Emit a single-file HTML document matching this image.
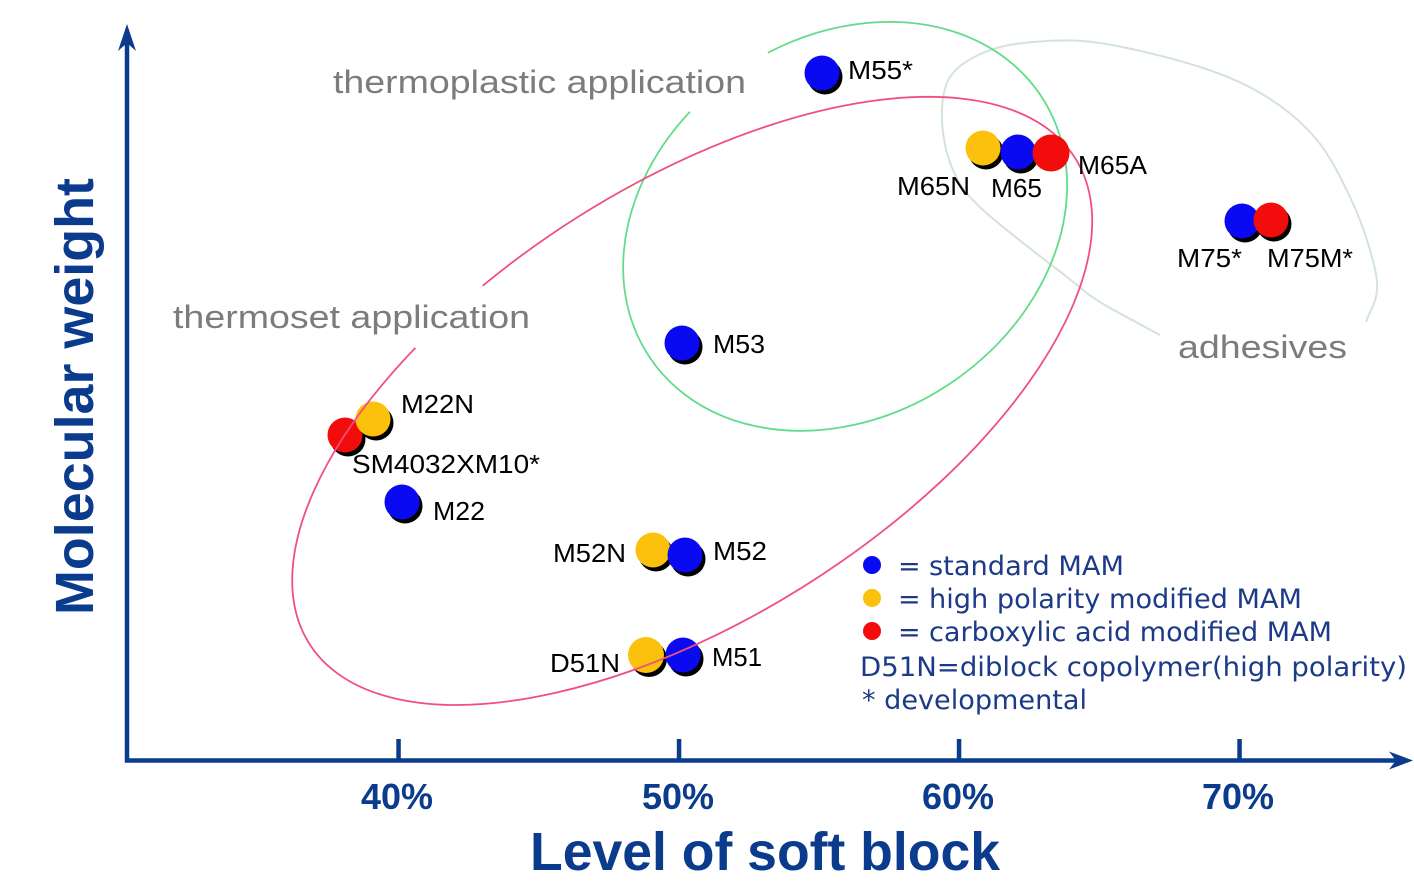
<!DOCTYPE html>
<html>
<head>
<meta charset="utf-8">
<style>
  html, body { margin:0; padding:0; background:#fff; }
  svg { display:block; }
  .lbl { font-family:"Liberation Sans", Arial, sans-serif; font-size:26px; fill:#000; }
  .gray { font-family:"Liberation Sans", Arial, sans-serif; font-size:32px; fill:#7c7c7c; }
  .leg { font-family:"DejaVu Sans", Verdana, sans-serif; font-size:27px; fill:#1c3a87; }
  .ax { font-family:"Liberation Sans", Arial, sans-serif; font-weight:bold; fill:#0b3b8c; }
</style>
</head>
<body>
<svg width="1414" height="883" viewBox="0 0 1414 883" xmlns="http://www.w3.org/2000/svg">
  <rect width="1414" height="883" fill="#fff"/>

  <!-- Axes -->
  <path d="M127 42 V760.5 H1398" fill="none" stroke="#0b3b8c" stroke-width="4.5" stroke-linejoin="miter"/>
  <polygon points="127,24 118,51 127,43 136,51" fill="#0b3b8c"/>
  <polygon points="1413,760.5 1389,751.5 1396,760.5 1389,769.5" fill="#0b3b8c"/>
  <rect x="396.3" y="739" width="4.5" height="22" fill="#0b3b8c"/>
  <rect x="676.8" y="739" width="4.5" height="22" fill="#0b3b8c"/>
  <rect x="956.8" y="739" width="4.5" height="22" fill="#0b3b8c"/>
  <rect x="1237.3" y="739" width="4.5" height="22" fill="#0b3b8c"/>

  <!-- Tick labels -->
  <text class="ax" x="361" y="809" font-size="36" textLength="72" lengthAdjust="spacingAndGlyphs">40%</text>
  <text class="ax" x="642" y="809" font-size="36" textLength="72" lengthAdjust="spacingAndGlyphs">50%</text>
  <text class="ax" x="922" y="809" font-size="36" textLength="72" lengthAdjust="spacingAndGlyphs">60%</text>
  <text class="ax" x="1202" y="809" font-size="36" textLength="72" lengthAdjust="spacingAndGlyphs">70%</text>

  <!-- Axis titles -->
  <text class="ax" x="530" y="870" font-size="54" textLength="470" lengthAdjust="spacingAndGlyphs">Level of soft block</text>
  <text class="ax" font-size="54" transform="translate(93,615) rotate(-90)" textLength="437" lengthAdjust="spacingAndGlyphs">Molecular weight</text>

  <!-- Region labels -->
  <text class="gray" x="333" y="93" textLength="413" lengthAdjust="spacingAndGlyphs">thermoplastic application</text>
  <text class="gray" x="173" y="328" textLength="357" lengthAdjust="spacingAndGlyphs">thermoset application</text>
  <text class="gray" x="1178" y="358" textLength="169" lengthAdjust="spacingAndGlyphs">adhesives</text>

  <!-- Dots (shadow + fill) -->
  <g>
    <!-- M55* -->
    <circle cx="825" cy="77" r="17.5" fill="#000"/>
    <circle cx="822" cy="73" r="17.5" fill="#0a0af2"/>
    <!-- M53 -->
    <circle cx="685" cy="347" r="17.5" fill="#000"/>
    <circle cx="682" cy="343" r="17.5" fill="#0a0af2"/>
    <!-- SM4032XM10* red + M22N yellow -->
    <circle cx="348" cy="439" r="17.5" fill="#000"/>
    <circle cx="345" cy="435" r="17.5" fill="#f20c0c"/>
    <circle cx="376" cy="423" r="17.5" fill="#000"/>
    <circle cx="373" cy="419" r="17.5" fill="#fcc10c"/>
    <!-- M22 -->
    <circle cx="405" cy="506" r="17.5" fill="#000"/>
    <circle cx="402" cy="502" r="17.5" fill="#0a0af2"/>
    <!-- M52N / M52 -->
    <circle cx="656" cy="554" r="17.5" fill="#000"/>
    <circle cx="653" cy="550" r="17.5" fill="#fcc10c"/>
    <circle cx="688" cy="559" r="17.5" fill="#000"/>
    <circle cx="685" cy="555" r="17.5" fill="#0a0af2"/>
    <!-- D51N / M51 -->
    <circle cx="649" cy="659" r="18" fill="#000"/>
    <circle cx="646" cy="655" r="18" fill="#fcc10c"/>
    <circle cx="686" cy="659" r="17.5" fill="#000"/>
    <circle cx="683" cy="655" r="17.5" fill="#0a0af2"/>
    <!-- M75* / M75M* -->
    <circle cx="1245" cy="225" r="17.5" fill="#000"/>
    <circle cx="1242" cy="221" r="17.5" fill="#0a0af2"/>
    <circle cx="1274" cy="224" r="17.5" fill="#000"/>
    <circle cx="1271" cy="220" r="17.5" fill="#f20c0c"/>
  </g>

  <!-- Ellipses -->
  <path d="M1160,335 C1140,324 1115.5,311.7 1100,302 C1084.5,292.3 1086.5,292.3 1067,277 C1047.5,261.7 1002,227.8 983,210 C964,192.2 959.8,185 953,170 C946.2,155 942.5,135.5 942,120 C941.5,104.5 942.8,88.3 950,77 C957.2,65.7 971.2,57.8 985,52 C998.8,46.2 1013.8,43.5 1033,42 C1052.2,40.5 1072.2,38.8 1100,43 C1127.8,47.2 1172.2,58 1200,67 C1227.8,76 1247.5,84.8 1267,97 C1286.5,109.2 1303.2,123.3 1317,140 C1330.8,156.7 1341.2,178.7 1350,197 C1358.8,215.3 1365.5,234.5 1370,250 C1374.5,265.5 1377.7,278 1377,290 C1376.3,302 1369.7,311.3 1366,322"
        fill="none" stroke="#d3e4d7" stroke-width="2"/>
  <path d="M767.9,52.75 A235.3,189 -33.85 1 1 689.95,111.7" fill="none" stroke="#62dc8a" stroke-width="1.8"/>
  <path d="M482.65,285.85 A453.4,216.5 -32.4 1 1 415.4,347.9" fill="none" stroke="#f0507e" stroke-width="1.8"/>

  <!-- M65 group (on top of curves) -->
  <circle cx="986" cy="152" r="17.5" fill="#000"/>
  <circle cx="983" cy="148" r="17.5" fill="#fcc10c"/>
  <circle cx="1021" cy="156" r="17.5" fill="#000"/>
  <circle cx="1018" cy="152" r="17.5" fill="#0a0af2"/>
  <circle cx="1051" cy="153" r="18.5" fill="#f20c0c"/>

  <!-- Data labels -->
  <text class="lbl" x="848" y="79" textLength="65" lengthAdjust="spacingAndGlyphs">M55*</text>
  <text class="lbl" x="897" y="195" textLength="73" lengthAdjust="spacingAndGlyphs">M65N</text>
  <text class="lbl" x="991" y="197" textLength="51" lengthAdjust="spacingAndGlyphs">M65</text>
  <text class="lbl" x="1078" y="174" textLength="69" lengthAdjust="spacingAndGlyphs">M65A</text>
  <text class="lbl" x="1177" y="267" textLength="65" lengthAdjust="spacingAndGlyphs">M75*</text>
  <text class="lbl" x="1267" y="267" textLength="86" lengthAdjust="spacingAndGlyphs">M75M*</text>
  <text class="lbl" x="713" y="353" textLength="52" lengthAdjust="spacingAndGlyphs">M53</text>
  <text class="lbl" x="401" y="413" textLength="73" lengthAdjust="spacingAndGlyphs">M22N</text>
  <text class="lbl" x="352" y="473" textLength="188" lengthAdjust="spacingAndGlyphs">SM4032XM10*</text>
  <text class="lbl" x="433" y="520" textLength="52" lengthAdjust="spacingAndGlyphs">M22</text>
  <text class="lbl" x="553" y="562" textLength="73" lengthAdjust="spacingAndGlyphs">M52N</text>
  <text class="lbl" x="713" y="560" textLength="54" lengthAdjust="spacingAndGlyphs">M52</text>
  <text class="lbl" x="550" y="672" textLength="70" lengthAdjust="spacingAndGlyphs">D51N</text>
  <text class="lbl" x="712" y="666" textLength="50" lengthAdjust="spacingAndGlyphs">M51</text>

  <!-- Legend -->
  <circle cx="872" cy="565" r="9" fill="#0a0af2"/>
  <circle cx="872" cy="598" r="9" fill="#fcc10c"/>
  <circle cx="872" cy="631" r="9" fill="#f20c0c"/>
  <text class="leg" x="898" y="575">=</text>
  <text class="leg" x="898" y="608">=</text>
  <text class="leg" x="898" y="641">=</text>
  <text class="leg" x="929" y="575" textLength="195" lengthAdjust="spacingAndGlyphs">standard MAM</text>
  <text class="leg" x="929" y="608" textLength="373" lengthAdjust="spacingAndGlyphs">high polarity modified MAM</text>
  <text class="leg" x="929" y="641" textLength="403" lengthAdjust="spacingAndGlyphs">carboxylic acid modified MAM</text>
  <text class="leg" x="860" y="676" textLength="547" lengthAdjust="spacingAndGlyphs">D51N=diblock copolymer(high polarity)</text>
  <text class="leg" x="862" y="709" textLength="225" lengthAdjust="spacingAndGlyphs">* developmental</text>
</svg>
</body>
</html>
